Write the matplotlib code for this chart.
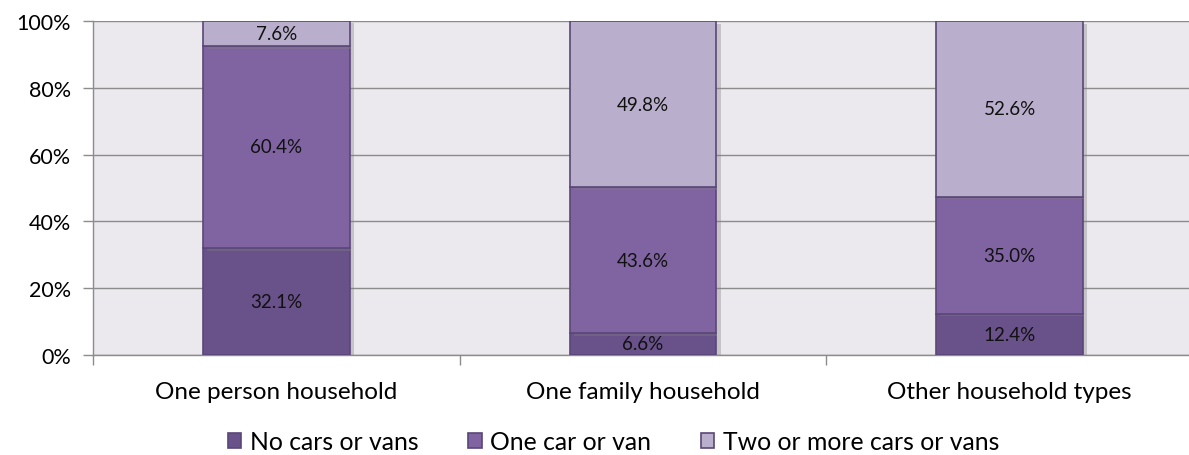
import matplotlib
matplotlib.use("Agg")
import matplotlib.pyplot as plt
import matplotlib.patheffects as pe
import numpy as np

categories = ["One person household", "One family household", "Other household types"]
series_names = ["No cars or vans", "One car or van", "Two or more cars or vans"]
no_cars = [32.1, 6.6, 12.4]
one_car = [60.4, 43.6, 35.0]
two_plus = [7.6, 49.8, 52.6]
yticks = [0, 20, 40, 60, 80, 100]

colors = ["#69518A", "#8064A2", "#B9AFCC"]
edge = "#5A4778"

plt.rcParams['font.family'] = ['Lato', 'DejaVu Sans']

fig = plt.figure(figsize=(11.89, 4.56), dpi=100)
ax = fig.add_axes([93/1189, 100/456, 1100/1189, 334/456])
ax.set_facecolor("#EBE8EE")

x = np.arange(len(categories))
bottom = np.zeros(len(categories))
shadow = [pe.SimplePatchShadow(offset=(3, -2), shadow_rgbFace="#808080", alpha=0.35), pe.Normal()]
for vals, col, name in zip([no_cars, one_car, two_plus], colors, series_names):
    bars = ax.bar(x, vals, width=0.40, bottom=bottom, color=col, edgecolor=edge,
                  linewidth=1.2, label=name, zorder=3)
    for b in bars:
        b.set_path_effects(shadow)
    for xi, b0, v in zip(x, bottom, vals):
        ax.text(xi, b0 + v / 2, f"{v:.1f}%", ha="center", va="center",
                fontsize=13.5, color="#111111", zorder=4)
    bottom = bottom + np.array(vals)

ax.set_xlim(-0.5, len(categories) - 0.5)
ax.set_ylim(0, 100)
ax.set_yticks(yticks)
ax.set_yticklabels([f"{t}%" for t in yticks], fontsize=15.5)
ax.yaxis.grid(True, color="#8C8C8C", linewidth=1, zorder=0)
ax.set_axisbelow(True)

ax.set_xticks(x)
ax.set_xticklabels(categories, fontsize=17.5)
ax.tick_params(axis="x", length=0, pad=19)
ax.set_xticks(np.arange(-0.5, len(categories)), minor=True)
ax.tick_params(axis="x", which="minor", length=7, color="#8C8C8C", width=1)
ax.tick_params(axis="y", length=7, color="#8C8C8C", width=1, pad=9)

for s in ["top", "right"]:
    ax.spines[s].set_visible(False)
for s in ["left", "bottom"]:
    ax.spines[s].set_color("#8C8C8C")
    ax.spines[s].set_linewidth(1)

leg = fig.legend(loc="lower center", bbox_to_anchor=(0.516, -0.045), ncol=3,
                 frameon=False, fontsize=17.8, handlelength=0.55, handleheight=0.55,
                 handletextpad=0.35, columnspacing=2.0)
for h in leg.legend_handles:
    h.set_edgecolor(edge)
    h.set_path_effects([])

fig.savefig("out.png", dpi=100)
